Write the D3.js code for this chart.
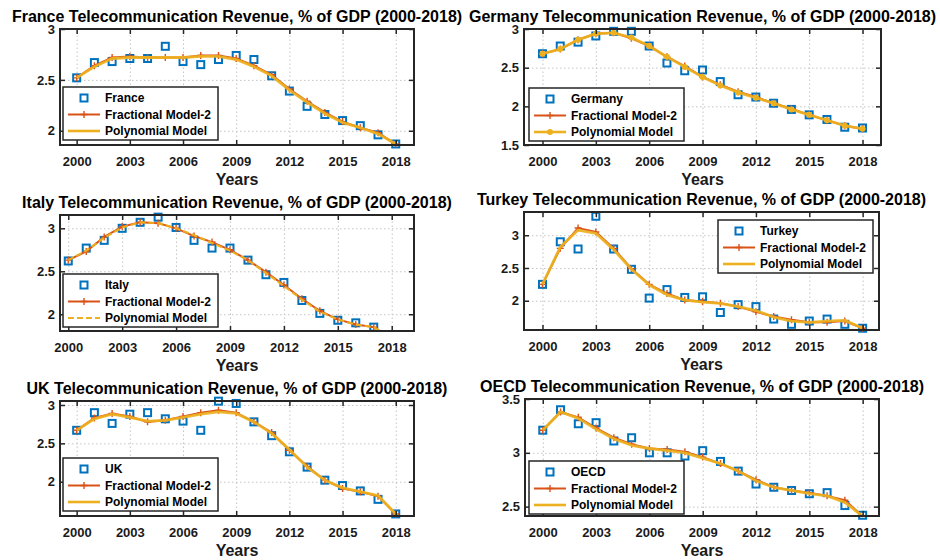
<!DOCTYPE html>
<html>
<head>
<meta charset="utf-8">
<script src="https://cdn.jsdelivr.net/npm/d3@7/dist/d3.min.js"></script>
<style>
  html, body { margin: 0; padding: 0; background: #fff; }
  svg { display: block; font-family: "Liberation Sans", Arial, Helvetica, sans-serif; }
</style>
</head>
<body>
<svg id="chart" width="940" height="560"></svg>
<script>
// ---- Data: telecommunication revenue, % of GDP ----
const years = [2000, 2001, 2002, 2003, 2004, 2005, 2006, 2007, 2008, 2009,
               2010, 2011, 2012, 2013, 2014, 2015, 2016, 2017, 2018];
const xTickValues = [2000, 2003, 2006, 2009, 2012, 2015, 2018];
const seriesLabels = ["Fractional Model-2", "Polynomial Model"];

const franceData = [2.52, 2.67, 2.68, 2.71, 2.71, 2.83, 2.68, 2.65, 2.70, 2.74, 2.70, 2.54, 2.39, 2.24, 2.16, 2.10, 2.05, 1.96, 1.87];
const franceFrac = [2.52, 2.64, 2.72, 2.73, 2.72, 2.72, 2.72, 2.74, 2.74, 2.71, 2.64, 2.55, 2.41, 2.29, 2.18, 2.09, 2.03, 1.98, 1.87];
const francePoly = [2.52, 2.63, 2.71, 2.72, 2.72, 2.72, 2.72, 2.73, 2.73, 2.70, 2.63, 2.54, 2.40, 2.28, 2.17, 2.08, 2.03, 1.97, 1.87];

const germanyData = [2.68, 2.78, 2.83, 2.91, 2.97, 2.97, 2.78, 2.56, 2.46, 2.47, 2.32, 2.15, 2.12, 2.04, 1.96, 1.89, 1.83, 1.73, 1.72];
const germanyFrac = [2.68, 2.74, 2.86, 2.94, 2.95, 2.88, 2.78, 2.64, 2.52, 2.38, 2.28, 2.19, 2.12, 2.04, 1.97, 1.89, 1.82, 1.75, 1.71];
const germanyPoly = [2.68, 2.74, 2.86, 2.94, 2.95, 2.89, 2.78, 2.64, 2.51, 2.38, 2.27, 2.18, 2.11, 2.04, 1.96, 1.89, 1.82, 1.75, 1.71];

const italyData = [2.62, 2.77, 2.86, 3.00, 3.07, 3.13, 3.01, 2.86, 2.77, 2.77, 2.63, 2.46, 2.37, 2.16, 2.01, 1.93, 1.90, 1.85, 1.74];
const italyFrac = [2.63, 2.73, 2.90, 3.02, 3.07, 3.06, 3.00, 2.91, 2.84, 2.75, 2.63, 2.49, 2.34, 2.18, 2.04, 1.94, 1.88, 1.85, 1.72];
const italyPoly = [2.63, 2.74, 2.89, 3.01, 3.07, 3.06, 3.00, 2.92, 2.83, 2.74, 2.63, 2.48, 2.33, 2.17, 2.03, 1.94, 1.88, 1.85, 1.72];

const turkeyData = [2.25, 2.90, 2.79, 3.29, 2.79, 2.48, 2.04, 2.17, 2.05, 2.06, 1.82, 1.94, 1.91, 1.72, 1.64, 1.69, 1.72, 1.64, 1.58];
const turkeyFrac = [2.25, 2.80, 3.11, 3.05, 2.80, 2.49, 2.25, 2.11, 2.01, 1.99, 1.96, 1.91, 1.83, 1.76, 1.71, 1.67, 1.67, 1.69, 1.58];
const turkeyPoly = [2.25, 2.82, 3.08, 3.03, 2.78, 2.48, 2.24, 2.09, 2.01, 1.98, 1.96, 1.91, 1.85, 1.75, 1.69, 1.67, 1.69, 1.70, 1.58];

const ukData = [2.67, 2.90, 2.76, 2.88, 2.90, 2.82, 2.79, 2.67, 3.05, 3.02, 2.78, 2.60, 2.39, 2.19, 2.02, 1.95, 1.88, 1.77, 1.58];
const ukFrac = [2.67, 2.83, 2.89, 2.85, 2.78, 2.80, 2.85, 2.90, 2.93, 2.90, 2.78, 2.64, 2.41, 2.20, 2.02, 1.91, 1.87, 1.81, 1.58];
const ukPoly = [2.67, 2.82, 2.88, 2.84, 2.79, 2.80, 2.84, 2.88, 2.91, 2.89, 2.78, 2.63, 2.42, 2.19, 2.02, 1.92, 1.87, 1.82, 1.58];

const oecdData = [3.21, 3.40, 3.27, 3.28, 3.11, 3.14, 3.00, 3.00, 2.97, 3.02, 2.92, 2.83, 2.71, 2.68, 2.65, 2.62, 2.63, 2.51, 2.42];
const oecdFrac = [3.21, 3.38, 3.33, 3.23, 3.14, 3.08, 3.04, 3.03, 3.01, 2.96, 2.90, 2.83, 2.75, 2.68, 2.65, 2.63, 2.60, 2.56, 2.41];
const oecdPoly = [3.21, 3.38, 3.32, 3.22, 3.13, 3.07, 3.04, 3.02, 3.00, 2.95, 2.90, 2.83, 2.74, 2.68, 2.65, 2.62, 2.60, 2.54, 2.41];

const yTicksFrance = [2, 2.5, 3];
const yTicksGermany = [1.5, 2, 2.5, 3];
const yTicksItaly = [2, 2.5, 3];
const yTicksTurkey = [2, 2.5, 3];
const yTicksUK = [2, 2.5, 3];
const yTicksOECD = [2.5, 3, 3.5];

// ---- Panel setup (axes boxes, limits, legend placement, line styles) ----
const panels = [
  { name: "France",  data: franceData,  frac: franceFrac,  poly: francePoly,  yTicks: yTicksFrance,
    box: [60, 29, 414, 145],  xDom: [1999.06, 2019.03], yDom: [1.86, 3],
    legend: [63, 87], polyStyle: "solid" },
  { name: "Germany", data: germanyData, frac: germanyFrac, poly: germanyPoly, yTicks: yTicksGermany,
    box: [524, 29, 881, 145], xDom: [1998.96, 2019.04], yDom: [1.5, 3],
    legend: [529, 88], polyStyle: "dots" },
  { name: "Italy",   data: italyData,   frac: italyFrac,   poly: italyPoly,   yTicks: yTicksItaly,
    box: [60, 215, 414, 331], xDom: [1999.54, 2019.24], yDom: [1.805, 3.155],
    legend: [63, 274], polyStyle: "dashed" },
  { name: "Turkey",  data: turkeyData,  frac: turkeyFrac,  poly: turkeyPoly,  yTicks: yTicksTurkey,
    box: [524, 212, 879, 330], xDom: [1998.96, 2018.92], yDom: [1.553, 3.355],
    legend: [718, 220], polyStyle: "solid" },
  { name: "UK",      data: ukData,      frac: ukFrac,      poly: ukPoly,      yTicks: yTicksUK,
    box: [60, 401, 414, 516], xDom: [1999.06, 2019.03], yDom: [1.553, 3.052],
    legend: [63, 458], polyStyle: "solid" },
  { name: "OECD",    data: oecdData,    frac: oecdFrac,    poly: oecdPoly,    yTicks: yTicksOECD,
    box: [525, 399, 879, 516], xDom: [1999.0, 2018.92], yDom: [2.413, 3.5],
    legend: [529, 461], polyStyle: "solid" }
];

const C_DATA = "#0072BD", C_FRAC = "#D95319", C_POLY = "#EDB120";
const C_AXIS = "#262626", C_GRID = "#c4c4c4";

const svg = d3.select("#chart");
svg.append("rect").attr("width", 940).attr("height", 560).attr("fill", "#fff");

function squareMarks(g, pts, x, y) {
  g.selectAll(null).data(pts).join("rect")
    .attr("x", d => x(d[0]) - 3.5).attr("y", d => y(d[1]) - 3.5)
    .attr("width", 7).attr("height", 7)
    .attr("fill", "none").attr("stroke", C_DATA).attr("stroke-width", 2);
}
function plusMarks(g, pts, x, y) {
  g.selectAll(null).data(pts).join("path")
    .attr("d", d => { const cx = x(d[0]), cy = y(d[1]);
      return `M${cx - 3.5},${cy}H${cx + 3.5}M${cx},${cy - 3.5}V${cy + 3.5}`; })
    .attr("stroke", C_FRAC).attr("stroke-width", 1.4).attr("fill", "none");
}

panels.forEach((p, i) => {
  const [L, T, R, B] = p.box;
  const w = R - L, h = B - T;
  const g = svg.append("g").attr("transform", `translate(${L},${T})`);
  const x = d3.scaleLinear().domain(p.xDom).range([0, w]);
  const y = d3.scaleLinear().domain(p.yDom).range([h, 0]);

  const clipId = "clip" + i;
  g.append("clipPath").attr("id", clipId)
    .append("rect").attr("width", w).attr("height", h);

  // dotted grid
  g.append("g").attr("transform", `translate(0,${h})`)
    .call(d3.axisBottom(x).tickValues(xTickValues).tickSize(-h).tickFormat(""))
    .call(a => a.select(".domain").remove())
    .call(a => a.selectAll("line").attr("stroke", C_GRID).attr("stroke-dasharray", "1.5,2.5"));
  g.append("g")
    .call(d3.axisLeft(y).tickValues(p.yTicks).tickSize(-w).tickFormat(""))
    .call(a => a.select(".domain").remove())
    .call(a => a.selectAll("line").attr("stroke", C_GRID).attr("stroke-dasharray", "1.5,2.5"));

  const inRange = v => v >= p.yDom[0] && v <= p.yDom[1] + 0.01;
  const ptsData = years.map((yr, k) => [yr, p.data[k]]).filter(d => inRange(d[1]));
  const ptsFrac = years.map((yr, k) => [yr, p.frac[k]]);
  const ptsPoly = years.map((yr, k) => [yr, p.poly[k]]);
  const line = d3.line().x(d => x(d[0])).y(d => y(d[1]));

  const plot = g.append("g");
  squareMarks(plot, ptsData, x, y);

  plot.append("path").datum(ptsFrac).attr("d", line)
    .attr("clip-path", `url(#${clipId})`)
    .attr("fill", "none").attr("stroke", C_FRAC).attr("stroke-width", 2);
  plusMarks(plot, ptsFrac.filter(d => inRange(d[1])), x, y);

  const poly = plot.append("path").datum(ptsPoly).attr("d", line)
    .attr("clip-path", `url(#${clipId})`)
    .attr("fill", "none").attr("stroke", C_POLY).attr("stroke-width", 2.8)
    .attr("stroke-linejoin", "round").attr("opacity", 0.92);
  if (p.polyStyle === "dashed") poly.attr("stroke-dasharray", "6,3").attr("stroke-width", 2.2);
  if (p.polyStyle === "dots") {
    plot.selectAll(null).data(ptsPoly).join("circle")
      .attr("cx", d => x(d[0])).attr("cy", d => y(d[1])).attr("r", 3)
      .attr("fill", C_POLY);
  }

  // axes with inward ticks and labels
  const fmt = d3.format("~g");
  g.append("g").attr("transform", `translate(0,${h})`)
    .call(d3.axisBottom(x).tickValues(xTickValues).tickSize(-5).tickPadding(12).tickFormat(d3.format("d")))
    .call(a => a.select(".domain").remove())
    .call(a => a.selectAll("line").attr("stroke", C_AXIS).attr("stroke-width", 1.5))
    .call(a => a.selectAll("text").attr("fill", "#1a1a1a").attr("font-size", 13).attr("font-weight", "bold"));
  g.append("g")
    .call(d3.axisTop(x).tickValues(xTickValues).tickSize(-5).tickFormat(""))
    .call(a => a.select(".domain").remove())
    .call(a => a.selectAll("line").attr("stroke", C_AXIS).attr("stroke-width", 1.5));
  g.append("g")
    .call(d3.axisLeft(y).tickValues(p.yTicks).tickSize(-5).tickPadding(5).tickFormat(fmt))
    .call(a => a.select(".domain").remove())
    .call(a => a.selectAll("line").attr("stroke", C_AXIS).attr("stroke-width", 1.5))
    .call(a => a.selectAll("text").attr("fill", "#1a1a1a").attr("font-size", 13).attr("font-weight", "bold"));
  g.append("g").attr("transform", `translate(${w},0)`)
    .call(d3.axisRight(y).tickValues(p.yTicks).tickSize(-5).tickFormat(""))
    .call(a => a.select(".domain").remove())
    .call(a => a.selectAll("line").attr("stroke", C_AXIS).attr("stroke-width", 1.5));

  g.append("rect").attr("width", w).attr("height", h)
    .attr("fill", "none").attr("stroke", C_AXIS).attr("stroke-width", 2);

  // title and x label
  g.append("text").attr("x", w / 2).attr("y", -7).attr("text-anchor", "middle")
    .attr("font-size", 16).attr("font-weight", "bold").attr("fill", "#000")
    .text(`${p.name} Telecommunication Revenue, % of GDP (2000-2018)`);
  g.append("text").attr("x", w / 2).attr("y", h + 40).attr("text-anchor", "middle")
    .attr("font-size", 16).attr("font-weight", "bold").attr("fill", "#1a1a1a")
    .text("Years");

  // legend
  const lg = svg.append("g").attr("transform", `translate(${p.legend[0]},${p.legend[1]})`);
  lg.append("rect").attr("width", 155).attr("height", 53)
    .attr("fill", "#fff").attr("stroke", C_AXIS).attr("stroke-width", 1.5);
  const rows = [11, 27.5, 44];
  const lx = d3.scaleLinear().domain([0, 1]).range([5, 37]);
  squareMarks(lg, [[0.5, rows[0]]], lx, v => v);
  lg.append("line").attr("x1", lx(0)).attr("x2", lx(1)).attr("y1", rows[1]).attr("y2", rows[1])
    .attr("stroke", C_FRAC).attr("stroke-width", 2);
  plusMarks(lg, [[0.5, rows[1]]], lx, v => v);
  const pl = lg.append("line").attr("x1", lx(0)).attr("x2", lx(1)).attr("y1", rows[2]).attr("y2", rows[2])
    .attr("stroke", C_POLY).attr("stroke-width", 2.6);
  if (p.polyStyle === "dashed") pl.attr("stroke-dasharray", "6,3").attr("stroke-width", 2.2);
  if (p.polyStyle === "dots") {
    lg.append("circle").attr("cx", lx(0.5)).attr("cy", rows[2]).attr("r", 3).attr("fill", C_POLY);
  }
  [p.name, ...seriesLabels].forEach((t, k) => {
    lg.append("text").attr("x", 42).attr("y", rows[k] + 4.3)
      .attr("font-size", 12).attr("font-weight", "bold").attr("fill", "#000").text(t);
  });
});
</script>
</body>
</html>
